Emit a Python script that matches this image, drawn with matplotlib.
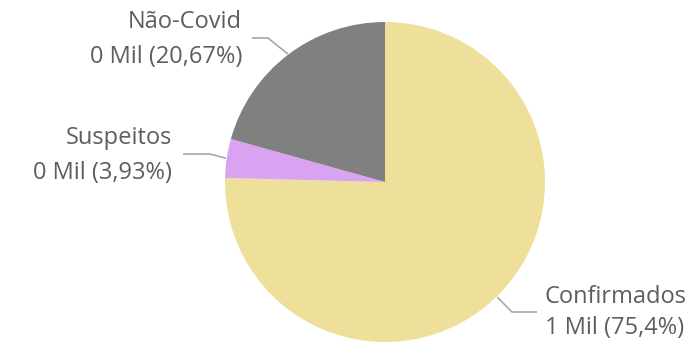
import numpy as np
import matplotlib.pyplot as plt

labels = ["Confirmados", "Suspeitos", "Não-Covid"]
values_mil = ["1 Mil", "0 Mil", "0 Mil"]
shares = [75.4, 3.93, 20.67]
pct_text = ["75,4%", "3,93%", "20,67%"]
colors = ["#EEE09A", "#D9A3F2", "#808080"]

W, H = 692, 342
cx, cy, R = 385, 182, 160

fig = plt.figure(figsize=(W / 100, H / 100), dpi=100)
ax = fig.add_axes([(cx - R) / W, (H - cy - R) / H, 2 * R / W, 2 * R / H])
ax.pie(shares, colors=colors, startangle=90, counterclock=False, radius=1,
       wedgeprops=dict(linewidth=0))
ax.set_xlim(-1, 1)
ax.set_ylim(-1, 1)
ax.set_aspect("equal")
ax.axis("off")

def px(x, y):
    # pixel coords -> data coords
    return (x - cx) / R, (cy - y) / R

# leader line layout: elbow, end of horizontal, text x, alignment, line y's
layout = {
    "Confirmados": ((512, 312), (537, 312), 545, "left", (297, 328)),
    "Suspeitos": ((210, 154), (183, 154), 172, "right", (138, 173)),
    "Não-Covid": ((268, 38), (252, 38), 242, "right", (22, 57)),
}

txt_color = "#605E5C"
line_color = "#A8A8A8"
fs = 17
cum = 0
for lab, val, share, pct in zip(labels, values_mil, shares, pct_text):
    mid = 90 - (cum + share / 2) * 3.6
    cum += share
    a = np.deg2rad(mid)
    ex, ey = np.cos(a) * 1.005, np.sin(a) * 1.005
    elbow, end, tx, ha, (ty0, ty1) = layout[lab]
    ebx, eby = px(*elbow)
    enx, eny = px(*end)
    ax.plot([ex, ebx, enx], [ey, eby, eny], color=line_color, lw=1.2,
            clip_on=False, solid_capstyle="butt")
    x0, y0 = px(tx, ty0)
    _, y1 = px(tx, ty1)
    ax.text(x0, y0, lab, ha=ha, va="center", fontsize=fs, color=txt_color,
            family="Open Sans", clip_on=False)
    ax.text(x0, y1, f"{val} ({pct})", ha=ha, va="center", fontsize=fs,
            color=txt_color, family="Open Sans", clip_on=False)

fig.savefig("out.png", dpi=100)
